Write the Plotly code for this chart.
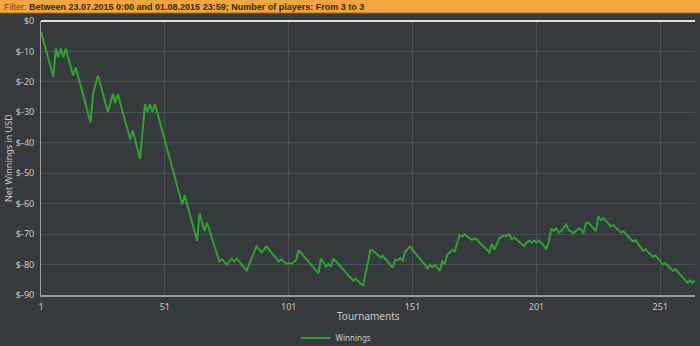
import plotly.graph_objects as go

# Turning points of the cumulative winnings line (tournament number, net USD)
tournaments = [
    1, 6, 7, 8, 9, 10, 11, 14, 15, 21,
    22, 24, 28, 30, 31, 32, 37, 38, 41, 43,
    44, 45, 46, 47, 58, 59, 64, 65, 67, 68,
    73, 74, 76, 78, 79, 80, 84, 88, 90, 92,
    97, 98, 100, 101, 102, 104, 105, 113, 114, 116,
    117, 118, 119, 127, 128, 131, 134, 135, 138, 139,
    143, 144, 145, 146, 147, 148, 150, 157, 158, 159,
    160, 162, 163, 164, 165, 167, 168, 170, 171, 172,
    174, 175, 176, 177, 182, 183, 184, 186, 188, 189,
    190, 191, 192, 196, 197, 198, 199, 200, 201, 202,
    204, 205, 206, 207, 208, 209, 210, 211, 213, 214,
    216, 218, 219, 220, 221, 222, 225, 226, 227, 228,
    229, 231, 232, 235, 236, 240, 241, 244, 245, 248,
    249, 252, 253, 256, 257, 262, 263, 264, 265,
]
winnings = [
    -3.5, -18.3, -9.0, -12.0, -9.0, -12.0, -9.0, -18.0, -15.2, -33.3,
    -24.0, -18.0, -30.0, -24.0, -27.0, -24.0, -38.9, -36.0, -45.3, -27.3,
    -30.0, -27.3, -30.0, -27.3, -60.2, -57.2, -72.2, -63.2, -69.0, -66.2,
    -79.0, -78.2, -80.0, -78.0, -79.0, -78.0, -82.0, -74.0, -76.0, -74.0,
    -79.0, -78.2, -79.8, -79.6, -79.8, -78.5, -75.3, -82.9, -78.0, -80.7,
    -79.8, -80.7, -78.0, -85.3, -84.7, -87.0, -75.2, -75.4, -77.6, -77.2,
    -81.0, -78.3, -78.7, -77.9, -78.7, -75.7, -74.1, -81.2, -80.1, -80.9,
    -80.1, -82.0, -79.0, -79.8, -76.8, -75.2, -75.7, -70.3, -70.8, -70.0,
    -71.4, -71.9, -71.4, -71.9, -76.0, -73.2, -75.2, -71.4, -70.3, -70.8,
    -70.0, -71.7, -71.1, -73.9, -72.8, -72.1, -72.8, -72.1, -72.8, -72.1,
    -73.9, -75.0, -72.4, -68.1, -68.9, -68.1, -69.5, -69.0, -66.8, -68.6,
    -69.7, -68.1, -68.6, -69.7, -66.4, -66.2, -69.0, -64.2, -65.3, -64.8,
    -65.6, -67.5, -67.0, -69.5, -69.0, -72.5, -72.0, -75.5, -75.0, -77.5,
    -77.0, -80.0, -79.5, -82.0, -81.5, -86.0, -85.2, -86.0, -85.3,
]

x_tickvals = [1, 51, 101, 151, 201, 251]
x_ticktext = ["1", "51", "101", "151", "201", "251"]
y_tickvals = [0, -10, -20, -30, -40, -50, -60, -70, -80, -90]
y_ticktext = ["$0", "$-10", "$-20", "$-30", "$-40", "$-50", "$-60", "$-70", "$-80", "$-90"]

filter_text = ("<span style='color:#6e4a14'>Filter:</span> "
               "<b>Between 23.07.2015 0:00 and 01.08.2015 23:59; Number of players: From 3 to 3</b>")

BG = "#36393d"
FONT = "Noto Sans"

fig = go.Figure()
fig.add_trace(go.Scatter(
    x=tournaments, y=winnings, mode="lines", name="Winnings",
    line=dict(color="#2fa22f", width=2),
))

W, H = 700, 346
L, R, T, B = 41, 5, 21, 51
pw, ph = W - L - R, H - T - B

fig.update_layout(
    width=W, height=H,
    margin=dict(l=L, r=R, t=T, b=B, pad=0, autoexpand=False),
    paper_bgcolor=BG, plot_bgcolor=BG,
    font=dict(family=FONT, size=9, color="#c9c9c9"),
    showlegend=True,
    legend=dict(orientation="h", xref="container", yref="container",
                x=(344 - 8) / W, xanchor="center", y=(H - 338) / H, yanchor="middle",
                font=dict(size=8, color="#c9c9c9"), bgcolor="rgba(0,0,0,0)",
                itemwidth=30),
    xaxis=dict(range=[1, 265], tickvals=x_tickvals, ticktext=x_ticktext,
               showgrid=True, gridcolor="#4c4f54", gridwidth=1,
               showline=True, linecolor="#9a9c9f", linewidth=2,
               zeroline=False, ticks="", ticklabelstandoff=2, automargin=False,
               tickfont=dict(size=9, color="#c9c9c9")),
    yaxis=dict(range=[-90, 0], tickvals=y_tickvals, ticktext=y_ticktext,
               showgrid=True, gridcolor="#4c4f54", gridwidth=1,
               showline=True, linecolor="#9a9c9f", linewidth=1,
               zeroline=False, ticks="", ticklabelstandoff=4, automargin=False,
               tickfont=dict(size=9, color="#c9c9c9")),
    shapes=[
        # orange filter banner
        dict(type="rect", xref="paper", yref="paper",
             x0=-L / pw, x1=1 + R / pw, y0=1 + (T - 13) / ph, y1=1 + T / ph,
             fillcolor="#f2a63c", line=dict(width=0), layer="above"),
        dict(type="line", xref="paper", yref="paper",
             x0=-L / pw, x1=1 + R / pw, y0=1 + (T - 13) / ph, y1=1 + (T - 13) / ph,
             line=dict(color="#a86a1c", width=1), layer="above"),
        # bright top border at $0
        dict(type="line", xref="paper", yref="paper",
             x0=0, x1=1, y0=1, y1=1,
             line=dict(color="#e2e2e2", width=2), layer="above"),
    ],
    annotations=[
        dict(text=filter_text, xref="paper", yref="paper",
             x=-L / pw + 2 / pw, xanchor="left",
             y=1 + (T - 6.5) / ph, yanchor="middle", showarrow=False,
             font=dict(family="Liberation Sans Narrow, Liberation Sans", size=9, color="#3a2606")),
        dict(text="Tournaments", xref="paper", yref="paper",
             x=0.5, xanchor="center", y=-(316 - (H - B)) / ph, yanchor="middle",
             showarrow=False, font=dict(size=10, color="#c9c9c9")),
        dict(text="Net Winnings in USD", xref="paper", yref="paper",
             x=-(L - 8) / pw, xanchor="center", y=0.5, yanchor="middle",
             textangle=-90, showarrow=False, font=dict(size=9, color="#c9c9c9")),
    ],
)

fig.write_html("out.html")
